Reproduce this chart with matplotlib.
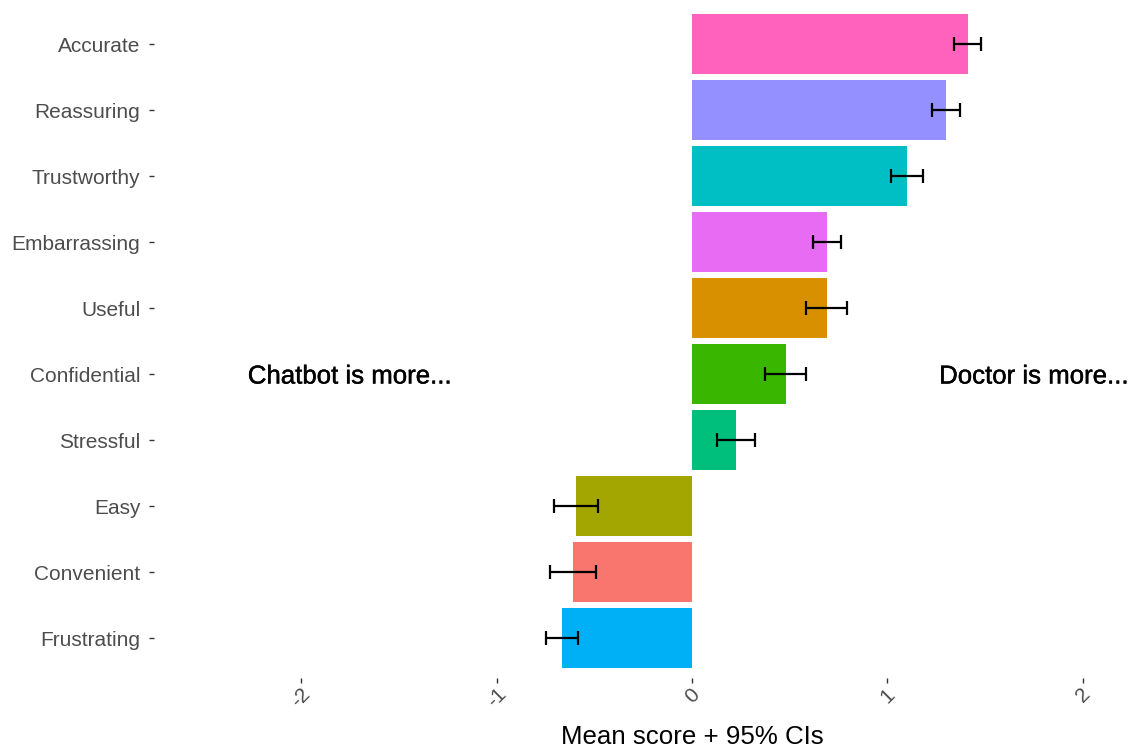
import numpy as np
import matplotlib
matplotlib.use("Agg")
import matplotlib.pyplot as plt
import matplotlib.patheffects as pe

plt.rcParams['font.family'] = ['Liberation Sans', 'DejaVu Sans']
plt.rcParams['axes.unicode_minus'] = False

# attributes, top to bottom
labels = ['Accurate', 'Reassuring', 'Trustworthy', 'Embarrassing', 'Useful',
          'Confidential', 'Stressful', 'Easy', 'Convenient', 'Frustrating']
means = [1.41, 1.30, 1.10, 0.69, 0.69, 0.48, 0.225, -0.595, -0.61, -0.665]
ci_half = [0.07, 0.07, 0.082, 0.07, 0.105, 0.105, 0.097, 0.113, 0.117, 0.083]
colors = ['#FF62BC', '#9590FF', '#00BFC4', '#E76BF3', '#D89000',
          '#39B600', '#00BF7D', '#A3A500', '#F8766D', '#00B0F6']
xticks = [-2, -1, 0, 1, 2]

W, H = 1133, 749
fig = plt.figure(figsize=(W / 100, H / 100), dpi=100)
# panel is symmetric about zero; the right part runs off the canvas
left_px, right_px, top_px, bot_px = 154.4, 1229.6, 4.4, 677.6
ax = fig.add_axes([left_px / W, 1 - bot_px / H,
                   (right_px - left_px) / W, (bot_px - top_px) / H])

n = len(labels)
ypos = np.arange(n)[::-1]
ax.barh(ypos, means, height=0.9, color=colors, edgecolor='none')
ax.errorbar(means, ypos, xerr=ci_half, fmt='none', ecolor='black',
            elinewidth=1.6, capsize=4.8, capthick=1.6)

# side captions, a touch heavier than plain text
heavy = [pe.withStroke(linewidth=0.3, foreground='black')]
ax.text(-1.75, ypos[5], 'Chatbot is more...', ha='center', va='center_baseline',
        fontsize=18.6, color='black', path_effects=heavy)
ax.text(1.75, ypos[5], 'Doctor is more...', ha='center', va='center_baseline',
        fontsize=18.6, color='black', path_effects=heavy)

ax.set_xlim(-2.75, 2.75)
ax.set_ylim(-0.6, n - 0.4)
ax.set_yticks(ypos)
ax.set_yticklabels(labels)
ax.set_xticks(xticks)
ax.set_xticklabels([str(v) for v in xticks], rotation=45, ha='center', va='top')

ax.tick_params(axis='both', colors='#333333', length=3.6, width=1.0,
               labelcolor='#4D4D4D', labelsize=15)
ax.tick_params(axis='y', pad=6.5)
ax.tick_params(axis='x', pad=1.5)
for s in ax.spines.values():
    s.set_visible(False)

fig.text(692 / W, 1 - 737 / H, 'Mean score + 95% CIs', ha='center', va='center',
         fontsize=18.6, color='black')

fig.savefig('out.png', dpi=100)
